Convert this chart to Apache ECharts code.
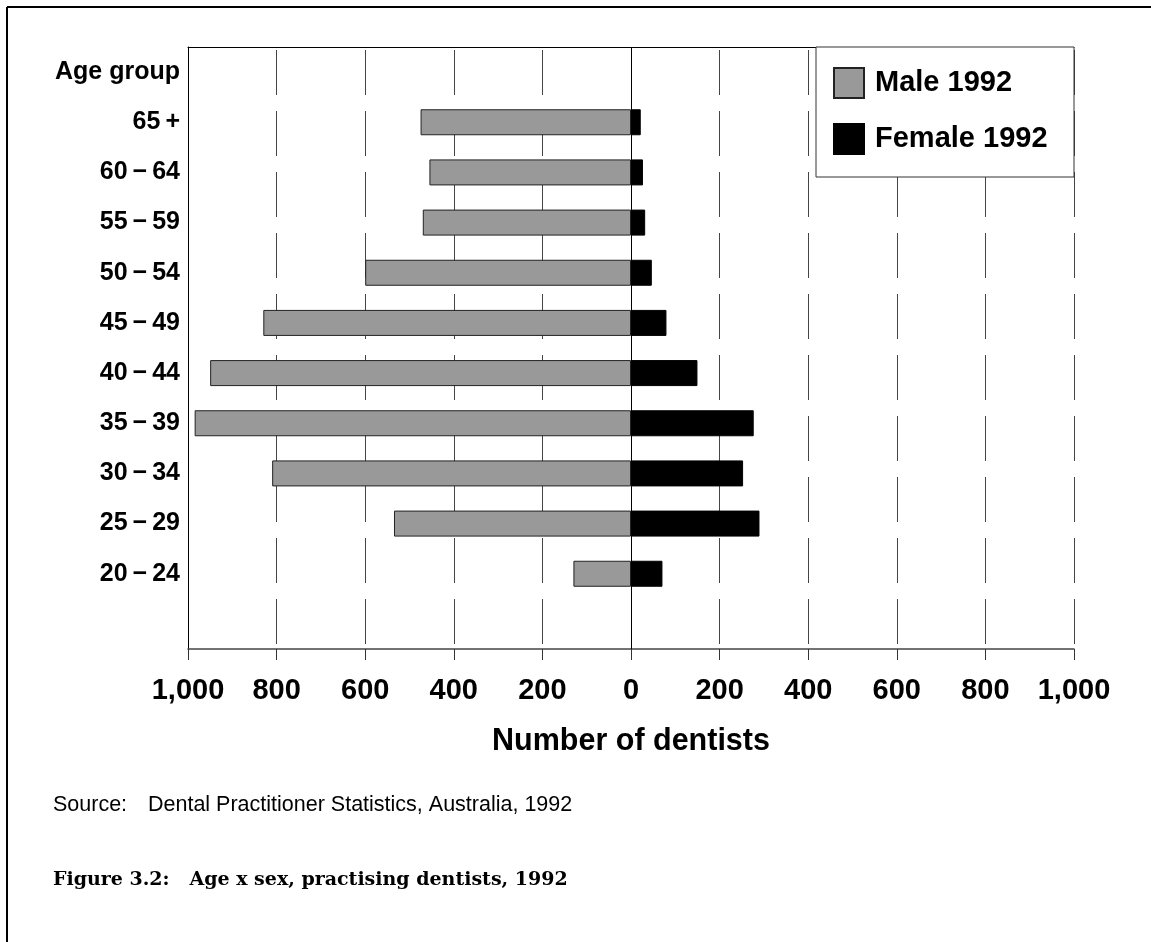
<!DOCTYPE html>
<html>
<head>
<meta charset="utf-8">
<script src="https://cdn.jsdelivr.net/npm/echarts@6/dist/echarts.min.js"></script>
<style>
  html, body { margin: 0; padding: 0; background: #fff; }
  #chart { width: 1151px; height: 942px; }
</style>
</head>
<body>
<div id="chart"></div>
<script>
// age groups, youngest first (bottom of the chart)
var ageGroups = ['20\u2009\u2212\u200924', '25\u2009\u2212\u200929', '30\u2009\u2212\u200934', '35\u2009\u2212\u200939',
                 '40\u2009\u2212\u200944', '45\u2009\u2212\u200949', '50\u2009\u2212\u200954', '55\u2009\u2212\u200959',
                 '60\u2009\u2212\u200964', '65\u2009+'];
var male1992   = [130, 535, 810, 985, 950, 830, 600, 470, 455, 475];
var female1992 = [71, 290, 253, 277, 150, 80, 47, 32, 27, 22];
var xTicks = [-1000, 1000, 200];   // min, max, step

var FONT = '"Liberation Sans", Arial, Helvetica, sans-serif';
var SERIF = '"DejaVu Serif", "Liberation Serif", serif';

// blank band at the bottom, header row at the top
var categories = [''].concat(ageGroups, ['Age group']);
var maleData = [null].concat(male1992.map(function (v) { return -v; }), [null]);
var femaleData = [null].concat(female1992, [null]);

function fmt(v) {
    return Math.abs(v).toString().replace(/\B(?=(\d{3})+(?!\d))/g, ',');
}

var chart = echarts.init(document.getElementById('chart'));
chart.setOption({
    backgroundColor: '#fff',
    animation: false,
    grid: {left: 188, top: 47, width: 886, height: 602, containLabel: false, outerBoundsMode: 'none'},
    legend: {
        orient: 'vertical', left: 833, top: 67, padding: 0, z: 6,
        itemWidth: 30, itemHeight: 30, itemGap: 24, icon: 'rect',
        textStyle: {fontFamily: FONT, fontWeight: 'bold', fontSize: 29, color: '#000', padding: [0, 0, 0, 6]},
        data: ['Male 1992', 'Female 1992']
    },
    xAxis: [{
        type: 'value', position: 'bottom',
        min: xTicks[0], max: xTicks[1], interval: xTicks[2],
        name: 'Number of dentists', nameLocation: 'middle', nameGap: 77,
        nameTextStyle: {fontFamily: FONT, fontWeight: 'bold', fontSize: 30.5, color: '#000'},
        axisLine: {show: true, onZero: false, lineStyle: {color: '#444', width: 1.5}},
        axisTick: {show: true, length: 11, lineStyle: {color: '#333'}},
        axisLabel: {fontFamily: FONT, fontWeight: 'bold', fontSize: 29, color: '#000', margin: 27,
            showMinLabel: true, showMaxLabel: true, formatter: fmt},
        splitLine: {show: true, lineStyle: {color: '#444', width: 1, type: [45, 16], dashOffset: 58}}
    }, {
        // plain top edge of the plot
        type: 'value', position: 'top',
        min: xTicks[0], max: xTicks[1], interval: xTicks[2],
        axisLine: {show: true, onZero: false, lineStyle: {color: '#000', width: 1}},
        axisTick: {show: false}, axisLabel: {show: false}, splitLine: {show: false}
    }],
    yAxis: {
        type: 'category', data: categories,
        axisLine: {show: true, onZero: false, lineStyle: {color: '#000', width: 1}},
        axisTick: {show: false},
        axisLabel: {fontFamily: FONT, fontWeight: 'bold', fontSize: 25, color: '#000', margin: 8},
        splitLine: {show: false}
    },
    series: [{
        name: 'Male 1992', type: 'bar', stack: 'pop', barWidth: 26,
        itemStyle: {color: '#999999', borderColor: '#222', borderWidth: 1},
        data: maleData,
        markLine: {
            silent: true, symbol: 'none', label: {show: false},
            lineStyle: {color: '#000', width: 1, type: 'solid'},
            data: [{xAxis: 0}]
        }
    }, {
        name: 'Female 1992', type: 'bar', stack: 'pop', barWidth: 26,
        itemStyle: {color: '#000', borderColor: '#000', borderWidth: 1},
        data: femaleData
    }],
    graphic: [
        {type: 'rect', z: 5, shape: {x: 816, y: 47, width: 258, height: 130},
            style: {fill: '#fff', stroke: '#333', lineWidth: 1}},
        {type: 'line', z: 5, shape: {x1: 7, y1: 7, x2: 1151, y2: 7}, style: {stroke: '#000', lineWidth: 2}},
        {type: 'line', z: 5, shape: {x1: 7, y1: 7, x2: 7, y2: 942}, style: {stroke: '#000', lineWidth: 2}},
        {type: 'text', left: 53, top: 794, style: {text: 'Source:', font: 'normal 21.5px ' + FONT, fill: '#000'}},
        {type: 'text', left: 148, top: 794, style: {text: 'Dental Practitioner Statistics, Australia, 1992', font: 'normal 21.5px ' + FONT, fill: '#000'}},
        {type: 'text', left: 53, top: 871, style: {text: 'Figure 3.2:   Age x sex, practising dentists, 1992', font: 'bold 19px ' + SERIF, fill: '#000'}}
    ]
});
</script>
</body>
</html>
